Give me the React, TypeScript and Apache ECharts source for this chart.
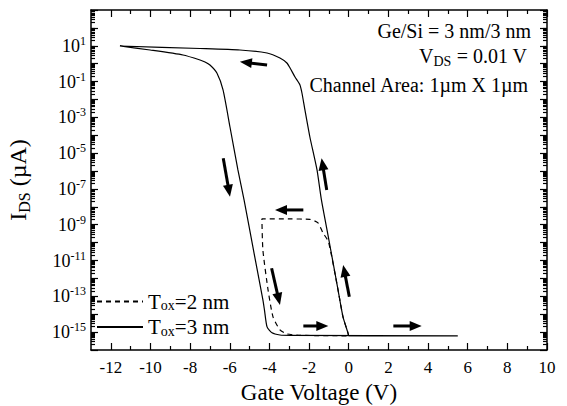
import { useEffect, useRef } from 'react';
import * as echarts from 'echarts';

const FONT = 'Liberation Serif';

// Axis ticks / labels
const xMajorTicks = [-12, -10, -8, -6, -4, -2, 0, 2, 4, 6, 8, 10];
const xMinorTicks = [-11, -9, -7, -5, -3, -1, 1, 3, 5, 7, 9];
const yDecadeTicks = [1e3, 1e2, 1e1, 1, 1e-1, 1e-2, 1e-3, 1e-4, 1e-5, 1e-6, 1e-7, 1e-8, 1e-9, 1e-10, 1e-11, 1e-12, 1e-13, 1e-14, 1e-15, 1e-16];
const yLabelTicks = [1e1, 1e-1, 1e-3, 1e-5, 1e-7, 1e-9, 1e-11, 1e-13, 1e-15];
const yMinorTicks: number[] = [];
for (let e = -16; e <= 2; e++) {
  for (let k = 2; k <= 9; k++) yMinorTicks.push(Number((k * Math.pow(10, e)).toPrecision(3)));
}

// T_ox = 3 nm (solid) sweep: gate voltage (V) and drain current (µA)
const tox3V = [5.5, 0, -0.04, -0.29, -0.54, -1.0, -1.38, -1.6, -1.96, -2.21, -2.36, -2.46, -2.71, -2.96, -3.12, -3.47, -4.12, -5.49, -7.5, -11.54,
  -10.02, -8.36, -7.5, -7.25, -7.0, -6.65, -6.34, -5.99, -5.59, -5.28, -4.74, -4.33, -4.25, -4.12, -3.87, -3.47, -2.96, 5.5];
const tox3I = [6.2e-16, 6.2e-16, 9.1e-16, 7.1e-15, 2.3e-13, 1.4e-10, 2.5e-8, 1.15e-6, 8.0e-5, 2.6e-3, 2.3e-2, 6.5e-2, 0.18, 0.575, 1.09, 2.08, 3.96, 5.82, 7.06, 9.75,
  5.82, 3.06, 1.61, 1.24, 0.845, 0.302, 0.034, 2.9e-4, 1.15e-6, 2.45e-8, 1.58e-11, 6.3e-14, 1.7e-14, 1.95e-15, 9.1e-16, 6.9e-16, 6.6e-16, 6.2e-16];

// T_ox = 2 nm (dashed) sweep
const tox2V = [0, -0.04, -0.29, -0.54, -1.02, -1.3, -1.55, -1.96, -2.96, -4.38, -4.33, -4.07, -3.82, -3.47, -3.12, -2.46, 0];
const tox2I = [6.2e-16, 9.1e-16, 7.1e-15, 2.3e-13, 1.1e-10, 3.5e-10, 1.26e-9, 2.0e-9, 2.1e-9, 2.1e-9, 3.9e-11, 2.3e-13, 7.1e-15, 1.32e-15, 7.9e-16, 6.6e-16, 6.2e-16];

// Sweep direction arrows: [tailV, tailI, tipV, tipI]
const arrows = [
  [-4.12, 0.845, -5.49, 1.29],
  [-6.33, 5.2e-6, -5.99, 3.7e-8],
  [-1.11, 8.8e-8, -1.37, 5.2e-6],
  [-2.29, 6.7e-9, -3.72, 6.7e-9],
  [-3.89, 3.7e-12, -3.47, 3.3e-14],
  [0.03, 9.5e-14, -0.28, 5.6e-12],
  [-2.29, 2.2e-15, -1.03, 2.2e-15],
  [2.25, 2.2e-15, 3.68, 2.2e-15],
];

const legendLabels: Record<string, string> = {
  'Tox=2 nm': '{a|T}{s|ox}{a|=2 nm}',
  'Tox=3 nm': '{a|T}{s|ox}{a|=3 nm}',
};

export default function App() {
  const ref = useRef<HTMLDivElement>(null);
  useEffect(() => {
    document.body.style.margin = '0';
    document.body.style.background = '#fff';
    if (!ref.current) return;
    const chart = echarts.init(ref.current, undefined, { renderer: 'svg' });
    const lineStyle = { color: '#000', width: 1.5 };
    const tickStyle = { color: '#000', width: 1.2 };
    const xAxis = (position: string, ticks: number[], len: number, main: boolean, labels: boolean) => ({
      type: 'value', gridIndex: 0, position, min: -13, max: 10,
      axisLine: { show: main, onZero: false, lineStyle },
      axisTick: { show: true, inside: true, length: len, customValues: ticks, lineStyle: tickStyle },
      axisLabel: labels
        ? { show: true, customValues: xMajorTicks, color: '#000', fontFamily: FONT, fontSize: 17, margin: 9 }
        : { show: false },
      splitLine: { show: false },
      ...(labels ? {
        name: 'Gate Voltage (V)', nameLocation: 'middle', nameGap: 31,
        nameTextStyle: { color: '#000', fontFamily: FONT, fontSize: 23 },
      } : {}),
    });
    const yAxis = (position: string, ticks: number[], len: number, main: boolean, labels: boolean) => ({
      type: 'log', logBase: 10, gridIndex: 0, position, min: 1e-16, max: 1e3,
      axisLine: { show: main, onZero: false, lineStyle },
      axisTick: { show: true, inside: true, length: len, customValues: ticks, lineStyle: tickStyle },
      axisLabel: labels
        ? {
          show: true, customValues: yLabelTicks, margin: 5,
          formatter: (v: number) => `{b|10}{s|${Math.round(Math.log10(v))}}`,
          rich: {
            b: { fontFamily: FONT, fontSize: 18, color: '#000', lineHeight: 22 },
            s: { fontFamily: FONT, fontSize: 12, color: '#000', lineHeight: 12, verticalAlign: 'top' },
          },
        }
        : { show: false },
      splitLine: { show: false },
      minorTick: { show: false },
      ...(labels ? {
        name: '{a|I}{s|DS}{a| (µA)}', nameLocation: 'middle', nameGap: 59, nameRotate: 90,
        nameTextStyle: {
          rich: {
            a: { fontFamily: FONT, fontSize: 24, color: '#000', lineHeight: 28 },
            s: { fontFamily: FONT, fontSize: 16, color: '#000', lineHeight: 14, verticalAlign: 'bottom' },
          },
        },
      } : {}),
    });
    const annRich = {
      a: { fontFamily: FONT, fontSize: 20, color: '#000', lineHeight: 24 },
      s: { fontFamily: FONT, fontSize: 14, color: '#000', lineHeight: 12, verticalAlign: 'bottom' },
    };
    const option: any = {
      animation: false,
      backgroundColor: '#fff',
      textStyle: { fontFamily: FONT },
      grid: { left: 91, right: 20, top: 10, bottom: 56, containLabel: false, outerBoundsMode: 'none' },
      xAxis: [
        xAxis('bottom', xMajorTicks, 7, true, true),
        xAxis('bottom', xMinorTicks, 4, false, false),
        xAxis('top', xMajorTicks, 7, true, false),
        xAxis('top', xMinorTicks, 4, false, false),
      ],
      yAxis: [
        yAxis('left', yDecadeTicks, 7, true, true),
        yAxis('left', yMinorTicks, 4, false, false),
        yAxis('right', yDecadeTicks, 7, true, false),
        yAxis('right', yMinorTicks, 4, false, false),
      ],
      legend: {
        data: ['Tox=2 nm', 'Tox=3 nm'],
        orient: 'vertical', left: 96, top: 291, padding: 0,
        itemWidth: 46, itemHeight: 14, itemGap: 4,
        itemStyle: { color: 'rgba(0,0,0,0)', borderWidth: 0, opacity: 0 },
        formatter: (n: string) => legendLabels[n],
        textStyle: {
          rich: {
            a: { fontFamily: FONT, fontSize: 21, color: '#000', lineHeight: 22 },
            s: { fontFamily: FONT, fontSize: 14, color: '#000', lineHeight: 12, verticalAlign: 'bottom' },
          },
        },
      },
      graphic: [
        { type: 'text', x: 531, y: 31, silent: true, style: { text: '{a|Ge/Si = 3 nm/3 nm}', rich: annRich, align: 'right', verticalAlign: 'middle' } },
        { type: 'text', x: 527, y: 56, silent: true, style: { text: '{a|V}{s|DS}{a| = 0.01 V}', rich: annRich, align: 'right', verticalAlign: 'middle' } },
        { type: 'text', x: 528, y: 85, silent: true, style: { text: '{a|Channel Area: 1µm X 1µm}', rich: annRich, align: 'right', verticalAlign: 'middle' } },
      ],
      series: [
        {
          name: 'Tox=2 nm', type: 'line', xAxisIndex: 0, yAxisIndex: 0,
          data: tox2V.map((v, i) => [v, tox2I[i]]),
          symbol: 'none', smooth: 0.2, silent: true,
          lineStyle: { color: '#000', width: 1.2, type: [5, 4] },
          itemStyle: { color: '#000' },
        },
        {
          name: 'Tox=3 nm', type: 'line', xAxisIndex: 0, yAxisIndex: 0,
          data: tox3V.map((v, i) => [v, tox3I[i]]),
          symbol: 'none', smooth: 0.2, silent: true,
          lineStyle: { color: '#000', width: 1.2, type: 'solid' },
          itemStyle: { color: '#000' },
        },
        {
          name: 'arrows', type: 'custom', xAxisIndex: 0, yAxisIndex: 0,
          data: arrows, encode: { x: [0, 2], y: [1, 3] }, silent: true, clip: false,
          renderItem: (_p: any, api: any) => {
            const p1 = api.coord([api.value(0), api.value(1)]);
            const p2 = api.coord([api.value(2), api.value(3)]);
            const dx = p2[0] - p1[0];
            const dy = p2[1] - p1[1];
            const L = Math.hypot(dx, dy) || 1;
            const ux = dx / L;
            const uy = dy / L;
            const head = 12;
            const hw = 5;
            const bx = p2[0] - ux * head;
            const by = p2[1] - uy * head;
            return {
              type: 'group',
              children: [
                { type: 'line', shape: { x1: p1[0], y1: p1[1], x2: bx + ux * 2, y2: by + uy * 2 }, style: { stroke: '#000', lineWidth: 3 } },
                { type: 'polygon', shape: { points: [[p2[0], p2[1]], [bx - uy * hw, by + ux * hw], [bx + uy * hw, by - ux * hw]] }, style: { fill: '#000' } },
              ],
            };
          },
        },
      ],
    };
    chart.setOption(option);
    return () => chart.dispose();
  }, []);
  return <div ref={ref} style={{ width: 567, height: 406 }} />;
}
